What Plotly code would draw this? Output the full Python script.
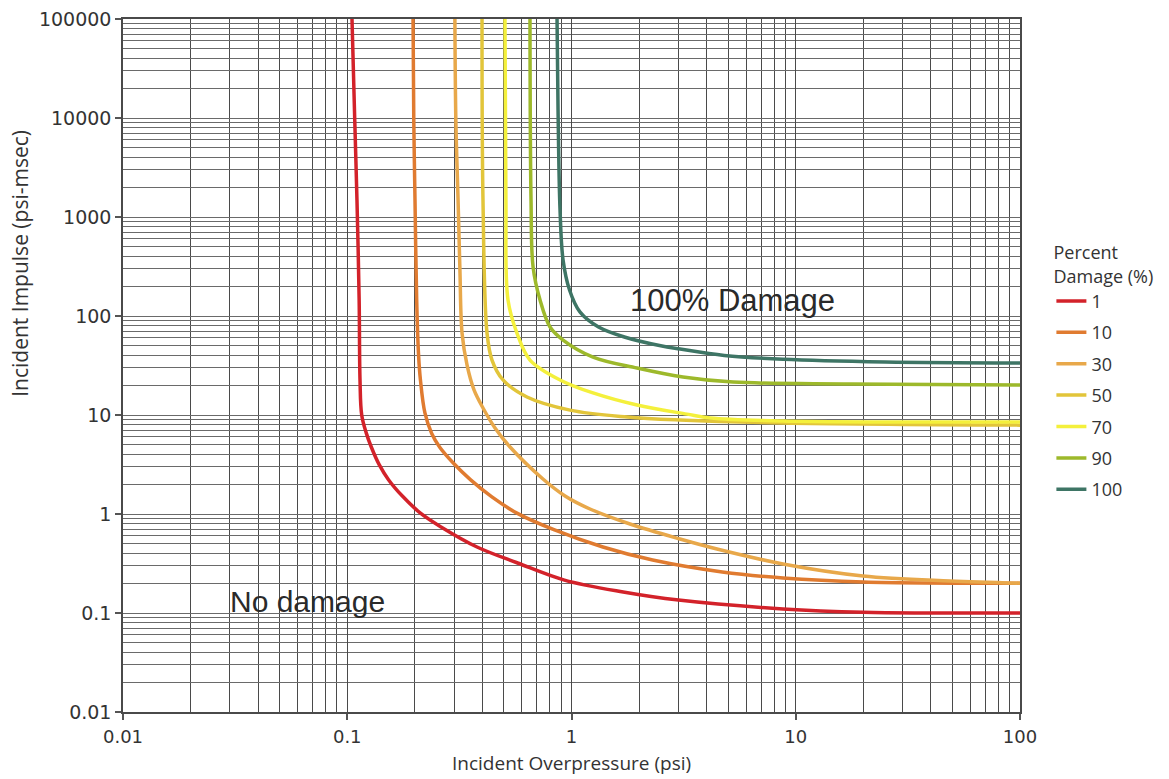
import plotly.graph_objects as go

# ---------------- data ----------------
damage_levels = ["1", "10", "30", "50", "70", "90", "100"]
line_colors = ["#D3222A", "#E07B30", "#E8A84A", "#E2C53A", "#F4F03C", "#9DB92B", "#3E7565"]

pressure_1 = [0.105, 0.108, 0.1105, 0.113, 0.114, 0.116, 0.1215, 0.128, 0.139, 0.153, 0.177, 0.212, 0.262, 0.379, 0.575, 0.93, 1.7, 3.0, 8.77, 20.0, 100]
impulse_1 = [100000, 9500, 1485, 145, 22.6, 10, 6.6, 4.75, 3.13, 2.21, 1.5, 1.02, 0.74, 0.464, 0.32, 0.215, 0.163, 0.135, 0.11, 0.102, 0.1]

pressure_10 = [0.1965, 0.198, 0.2005, 0.204, 0.208, 0.212, 0.222, 0.238, 0.258, 0.297, 0.355, 0.44, 0.571, 0.84, 1.38, 2.3, 4.7, 8.77, 20.0, 100]
impulse_10 = [100000, 9500, 1485, 145, 40, 22.6, 10.5, 6.5, 4.75, 3.27, 2.21, 1.5, 1.02, 0.69, 0.464, 0.343, 0.26, 0.226, 0.206, 0.2]

pressure_30 = [0.302, 0.305, 0.312, 0.318, 0.325, 0.342, 0.3675, 0.403, 0.456, 0.532, 0.746, 0.936, 1.209, 1.823, 3.047, 4.455, 8.77, 19.95, 48.7, 100]
impulse_30 = [100000, 9545, 1485, 291, 67.3, 32.0, 17.9, 11.77, 7.39, 4.75, 2.257, 1.52, 1.123, 0.792, 0.559, 0.443, 0.3126, 0.2364, 0.2105, 0.2]

pressure_50 = [0.399, 0.403, 0.420, 0.442, 0.495, 0.633, 0.985, 1.77, 3.05, 8.77, 100]
impulse_50 = [100000, 1485, 67.3, 35.9, 22.6, 15.2, 11.2, 9.55, 8.9, 8.3, 7.9]

pressure_70 = [0.505, 0.510, 0.521, 0.571, 0.653, 0.889, 1.247, 1.96, 3.27, 4.15, 8.77, 100]
impulse_70 = [100000, 1485, 145, 67.3, 35.9, 22.6, 16.7, 12.6, 10.2, 9.33, 8.7, 8.5]

pressure_90 = [0.653, 0.660, 0.674, 0.724, 0.802, 0.917, 1.247, 1.96, 3.14, 5.25, 17.5, 100]
impulse_90 = [100000, 1485, 313, 145, 77.4, 57.2, 38.5, 29.8, 24.2, 21.5, 20.6, 20.1]

pressure_100 = [0.862, 0.871, 0.889, 0.917, 0.98, 1.09, 1.32, 1.72, 2.5, 3.05, 4.8, 8.77, 25.0, 100]
impulse_100 = [100000, 12040, 1177, 368, 183, 110, 77.4, 61.4, 50, 46.4, 40, 36.5, 34.3, 33.5]

x_tick_values = [0.01, 0.1, 1, 10, 100]
x_tick_labels = ["0.01", "0.1", "1", "10", "100"]
y_tick_values = [0.01, 0.1, 1, 10, 100, 1000, 10000, 100000]
y_tick_labels = ["0.01", "0.1", "1", "10", "100", "1000", "10000", "100000"]

series_pressure = [pressure_1, pressure_10, pressure_30, pressure_50, pressure_70, pressure_90, pressure_100]
series_impulse = [impulse_1, impulse_10, impulse_30, impulse_50, impulse_70, impulse_90, impulse_100]

# ---------------- figure ----------------
fig = go.Figure()
for name, color, xs, ys in zip(damage_levels, line_colors, series_pressure, series_impulse):
    fig.add_trace(go.Scatter(
        x=xs, y=ys, mode="lines", name=name, legendgroup=name,
        line=dict(color=color, width=3.5, shape="spline", smoothing=1.0, simplify=False),
    ))

minor_x = [m * 10 ** e for e in range(-2, 2) for m in range(2, 10)]
minor_y = [m * 10 ** e for e in range(-2, 5) for m in range(2, 10)]

fig.update_xaxes(
    type="log", range=[-2, 2], automargin=False,
    tickmode="array", tickvals=x_tick_values, ticktext=x_tick_labels,
    ticks="outside", ticklen=6, tickcolor="#555555", tickwidth=1.5,
    ticklabelstandoff=2,
    tickfont=dict(family="DejaVu Sans", size=18, color="#333333"),
    showgrid=True, gridcolor="#4a4a4a", gridwidth=1.3,
    minor=dict(tickmode="array", tickvals=minor_x, showgrid=True,
               gridcolor="#4a4a4a", gridwidth=1.3, ticks=""),
    showline=True, linecolor="#4a4a4a", linewidth=1.5, mirror=True,
    zeroline=False,
)
fig.update_yaxes(
    type="log", range=[-2, 5], automargin=False,
    tickmode="array", tickvals=y_tick_values, ticktext=y_tick_labels,
    ticks="outside", ticklen=6, tickcolor="#555555", tickwidth=1.5,
    tickfont=dict(family="DejaVu Sans", size=19, color="#333333"),
    showgrid=True, gridcolor="#6a6a6a", gridwidth=1.3,
    minor=dict(tickmode="array", tickvals=minor_y, showgrid=True,
               gridcolor="#6a6a6a", gridwidth=1.3, ticks=""),
    showline=True, linecolor="#4a4a4a", linewidth=1.5, mirror=True,
    zeroline=False,
)

# axis titles
fig.add_annotation(x=0.5, y=-0.0953, xref="paper", yref="paper",
                   text="Incident Overpressure (psi)", showarrow=False,
                   xanchor="center", yanchor="bottom",
                   font=dict(family="Open Sans", size=19, color="#333333"))
fig.add_annotation(x=-0.115, y=0.648, xref="paper", yref="paper",
                   text="Incident Impulse (psi-msec)", showarrow=False, textangle=-90,
                   xanchor="center", yanchor="middle",
                   font=dict(family="Open Sans", size=21, color="#333333"))

# region labels
fig.add_annotation(x=-1.532, y=-0.88, xref="x", yref="y", text="No damage",
                   showarrow=False, xanchor="left", yanchor="middle",
                   font=dict(family="Liberation Sans", size=30, color="#2a2a2a"))
fig.add_annotation(x=0.252, y=2.16, xref="x", yref="y", text="100% Damage",
                   showarrow=False, xanchor="left", yanchor="middle",
                   font=dict(family="Liberation Sans", size=31, color="#2a2a2a"))

fig.update_layout(
    width=1169, height=779,
    margin=dict(l=123, r=149, t=19, b=67),
    paper_bgcolor="white", plot_bgcolor="white",
    showlegend=True,
    legend=dict(
        x=1.035, y=0.687, xanchor="left", yanchor="top",
        title=dict(text="Percent<br>Damage (%)", side="top center",
                   font=dict(family="Open Sans", size=18, color="#333333")),
        font=dict(family="Open Sans", size=18, color="#333333"),
        tracegroupgap=5, bgcolor="rgba(0,0,0,0)",
    ),
)

fig.write_html("out.html", include_plotlyjs=True, full_html=True,
               config={"displayModeBar": False},
               post_script="document.body.style.margin='0';")
